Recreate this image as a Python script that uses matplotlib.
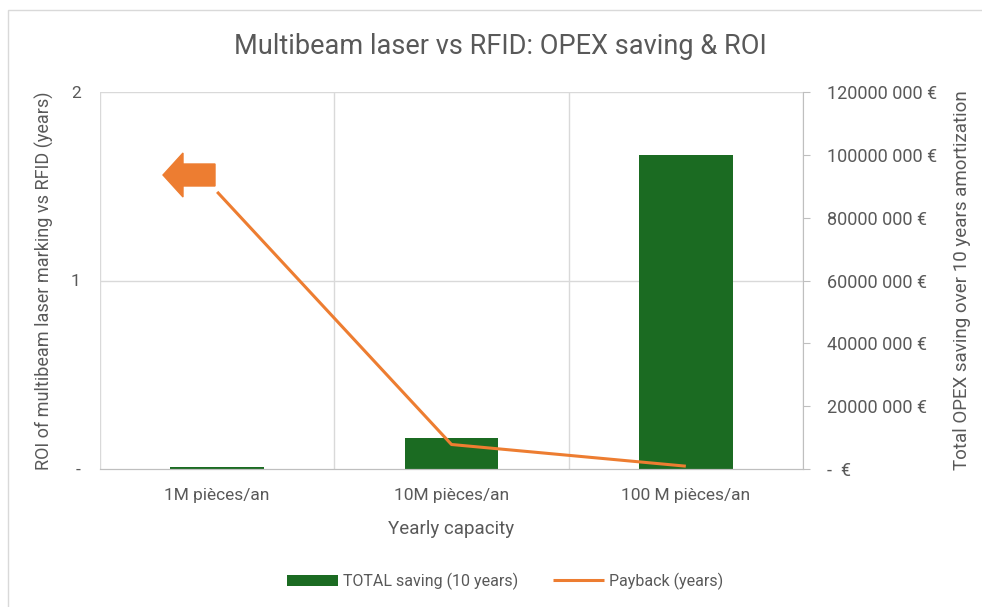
import matplotlib.pyplot as plt
import matplotlib.patches as patches
from matplotlib.ticker import FuncFormatter
import numpy as np

plt.rcParams['font.family'] = ['Roboto', 'DejaVu Sans']

# data
categories = ['1M pièces/an', '10M pièces/an', '100 M pièces/an']
saving = [0.6e6, 10e6, 100e6]      # TOTAL saving (10 years), €
payback = [1.47, 0.13, 0.015]      # Payback (years)

roi_ticks = [0, 1, 2]
eur_ticks = [0, 20e6, 40e6, 60e6, 80e6, 100e6, 120e6]

#colors
green = '#1b6b22'
orange = '#ed7d31'
txt = '#595959'
grid = '#d9d9d9'
axis_col = '#bfbfbf'

fig = plt.figure(figsize=(9.82, 6.07), dpi=100)
ax = fig.add_axes([100/982, 1-469/607, 703/982, 377/607])
ax2 = ax.twinx()

x = np.arange(len(categories))

#bars on the right axis, drawn beneath the payback line
ax2.bar(x, saving, width=0.4, color=green, zorder=2, label='TOTAL saving (10 years)')
ax2.set_ylim(0, 120e6)
ax2.set_yticks(eur_ticks)

def eur_fmt(v, pos):
    if v == 0:
        return '-  €'
    s = f'{int(v):d}'
    return s[:-3] + ' ' + s[-3:] + ' €'

ax2.yaxis.set_major_formatter(FuncFormatter(eur_fmt))
ax2.tick_params(axis='y', colors=axis_col, labelcolor=txt, labelsize=13, length=5, pad=12, direction='out')
ax2.set_ylabel('Total OPEX saving over 10 years amortization', color=txt, fontsize=13.5, labelpad=12)

#gridlines on the bar axis so they sit behind the bars
for t in roi_ticks[1:]:
    ax2.axhline(t * 60e6, color=grid, lw=1, zorder=0)
for b in np.arange(-0.5, len(categories), 1.0):
    ax2.axvline(b, color=grid, lw=1, zorder=0)

#payback line on the left axis
ax.set_zorder(ax2.get_zorder() + 1)
ax.patch.set_visible(False)
ax.plot(x, payback, color=orange, lw=2.2, solid_capstyle='butt', label='Payback (years)')
ax.set_ylim(0, 2)
ax.set_yticks(roi_ticks)
ax.set_yticklabels(['-', '1', '2'])
ax.set_xlim(-0.5, len(categories) - 0.5)
ax.set_xticks(x)
ax.set_xticklabels(categories)
ax.tick_params(axis='y', length=0, labelcolor=txt, labelsize=12.5, pad=14)
ax.tick_params(axis='x', length=0, labelcolor=txt, labelsize=12.5, pad=14)
ax.set_ylabel('ROI of multibeam laser marking vs RFID (years)', color=txt, fontsize=13, labelpad=12)
ax.set_xlabel('Yearly capacity', color=txt, fontsize=13.5, labelpad=12)

for a in (ax, ax2):
    for s in ('top', 'left', 'right'):
        a.spines[s].set_visible(False)
    a.spines['bottom'].set_color(axis_col)
ax2.spines['right'].set_visible(True)
ax2.spines['right'].set_color(axis_col)

#title
fig.text(500/982, 1-47/607, 'Multibeam laser vs RFID: OPEX saving & ROI',
         ha='center', va='center', color=txt, fontsize=19.5)

#orange arrow shape next to the first point
fig.patches.append(patches.FancyArrow(215/982, 1-175/607, -52/982, 0,
                                      width=22/607, head_width=44/607, head_length=20/982,
                                      length_includes_head=True, color=orange,
                                      transform=fig.transFigure, figure=fig))

#chart frame
fig.patches.append(patches.Rectangle((8/982, -0.1), 1.1, 1.1 - 10/607, fill=False,
                                     edgecolor=grid, lw=1, transform=fig.transFigure, figure=fig))

#legend
h1, l1 = ax2.get_legend_handles_labels()
h2, l2 = ax.get_legend_handles_labels()
fig.legend(h1 + h2, l1 + l2, loc='center', bbox_to_anchor=(505/982, 1-581/607), ncol=2,
           frameon=False, fontsize=11.5, labelcolor=txt, handlelength=3.2, handletextpad=0.3,
           columnspacing=2.2)

plt.savefig('out.png', dpi=100)
